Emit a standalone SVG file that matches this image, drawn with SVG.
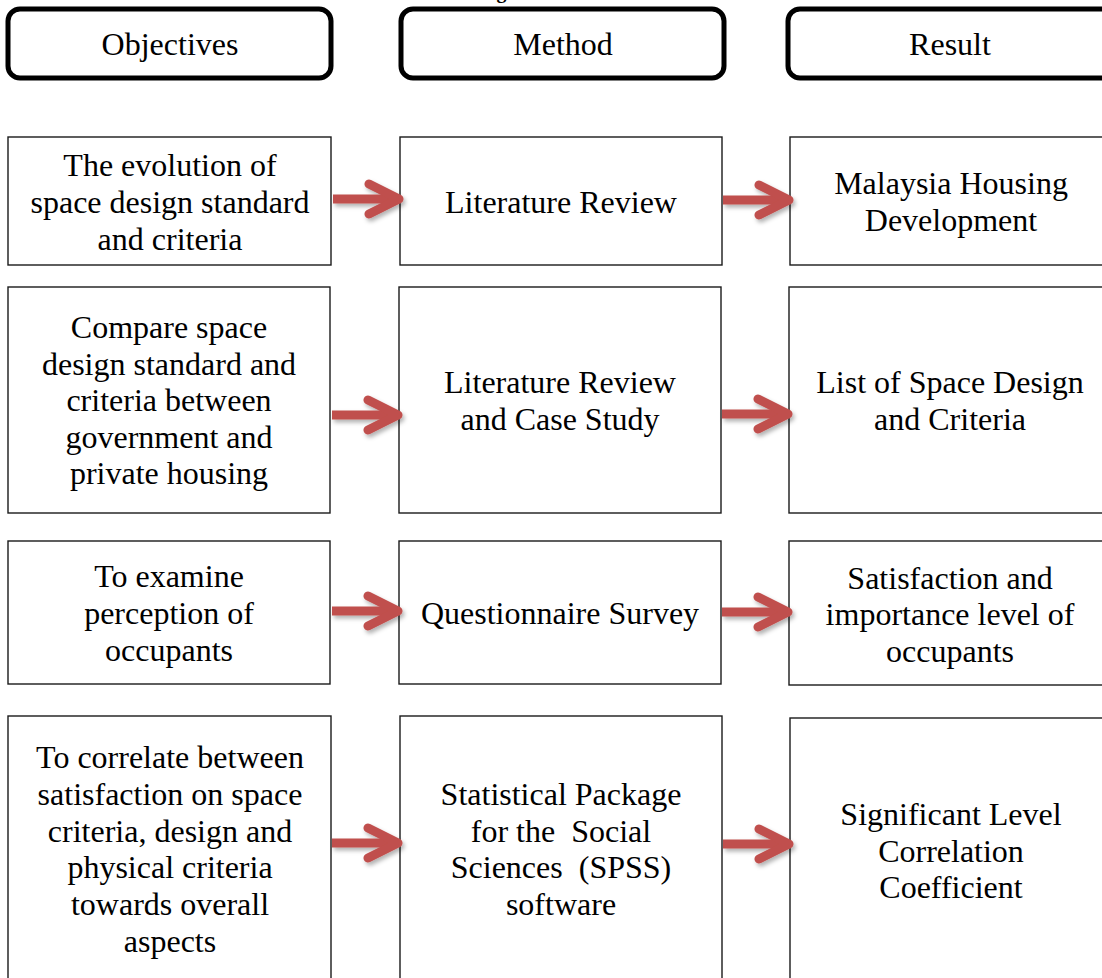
<svg xmlns="http://www.w3.org/2000/svg" xmlns:xlink="http://www.w3.org/1999/xlink" width="1102" height="978" viewBox="0 0 1102 978">
<style>
text{font-family:"Liberation Serif","Times New Roman",Times,serif;font-size:32px;fill:#000;text-anchor:middle;white-space:pre}
.hdr{fill:#fff;stroke:#000;stroke-width:5}
.box{fill:#fff;stroke:#1a1a1a;stroke-width:1.4}
.title{font-weight:bold;font-size:20px}
.arr{fill:none;stroke:#C0504D;stroke-width:9;stroke-linejoin:round}
</style>
<defs>
<filter id="sh" x="-20%" y="-40%" width="150%" height="190%">
<feDropShadow dx="2" dy="3" stdDeviation="2" flood-color="#000" flood-opacity="0.3"/>
</filter>
<g id="arrow">
<path class="arr" d="M0,0 H64" stroke-linecap="butt"/>
<path class="arr" d="M36,-15 L66,0 L36,15" stroke-linecap="round"/>
</g>
</defs>
<rect width="1102" height="978" fill="#fff"/>
<text class="title" x="630" y="-2">Figure 2: Research Method Outline</text>

<g id="hdr-objectives"><rect class="hdr" x="8" y="9" width="323" height="69" rx="12"/><text x="170" y="55">Objectives</text></g>
<g id="hdr-method"><rect class="hdr" x="401" y="9" width="323" height="69" rx="12"/><text x="563" y="55">Method</text></g>
<g id="hdr-result"><rect class="hdr" x="788" y="9" width="330" height="69" rx="12"/><text x="950" y="55">Result</text></g>

<g id="obj1"><rect class="box" x="8" y="137" width="323" height="128"/><text x="170" y="176">The evolution of</text><text x="170" y="213">space design standard</text><text x="170" y="250">and criteria</text></g>
<g id="met1"><rect class="box" x="400" y="137" width="322" height="128"/><text x="561" y="213">Literature Review</text></g>
<g id="res1"><rect class="box" x="790" y="137" width="330" height="128"/><text x="951" y="194">Malaysia Housing</text><text x="951" y="231">Development</text></g>

<g id="obj2"><rect class="box" x="8" y="287" width="322" height="226"/><text x="169" y="338">Compare space</text><text x="169" y="375">design standard and</text><text x="169" y="411">criteria between</text><text x="169" y="448">government and</text><text x="169" y="484">private housing</text></g>
<g id="met2"><rect class="box" x="399" y="287" width="322" height="226"/><text x="560" y="393">Literature Review</text><text x="560" y="430">and Case Study</text></g>
<g id="res2"><rect class="box" x="789" y="287" width="330" height="226"/><text x="950" y="393">List of Space Design</text><text x="950" y="430">and Criteria</text></g>

<g id="obj3"><rect class="box" x="8" y="541" width="322" height="143"/><text x="169" y="587">To examine</text><text x="169" y="624">perception of</text><text x="169" y="661">occupants</text></g>
<g id="met3"><rect class="box" x="399" y="541" width="322" height="143"/><text x="560" y="624">Questionnaire Survey</text></g>
<g id="res3"><rect class="box" x="789" y="541" width="330" height="144"/><text x="950" y="589">Satisfaction and</text><text x="950" y="625">importance level of</text><text x="950" y="662">occupants</text></g>

<g id="obj4"><rect class="box" x="8" y="716" width="323" height="280"/><text x="170" y="768">To correlate between</text><text x="170" y="805">satisfaction on space</text><text x="170" y="842">criteria, design and</text><text x="170" y="878">physical criteria</text><text x="170" y="915">towards overall</text><text x="170" y="952">aspects</text></g>
<g id="met4"><rect class="box" x="400" y="716" width="322" height="280"/><text x="561" y="805">Statistical Package</text><text x="561" y="842">for the  Social</text><text x="561" y="878">Sciences  (SPSS)</text><text x="561" y="915">software</text></g>
<g id="res4"><rect class="box" x="790" y="718" width="330" height="280"/><text x="951" y="825">Significant Level</text><text x="951" y="862">Correlation</text><text x="951" y="898">Coefficient</text></g>

<g id="connectors" filter="url(#sh)">
<use xlink:href="#arrow" x="333" y="199"/>
<use xlink:href="#arrow" x="723" y="200"/>
<use xlink:href="#arrow" x="332" y="415"/>
<use xlink:href="#arrow" x="722" y="414"/>
<use xlink:href="#arrow" x="332" y="611"/>
<use xlink:href="#arrow" x="722" y="612"/>
<use xlink:href="#arrow" x="332" y="843"/>
<use xlink:href="#arrow" x="723" y="844"/>
</g>
</svg>
